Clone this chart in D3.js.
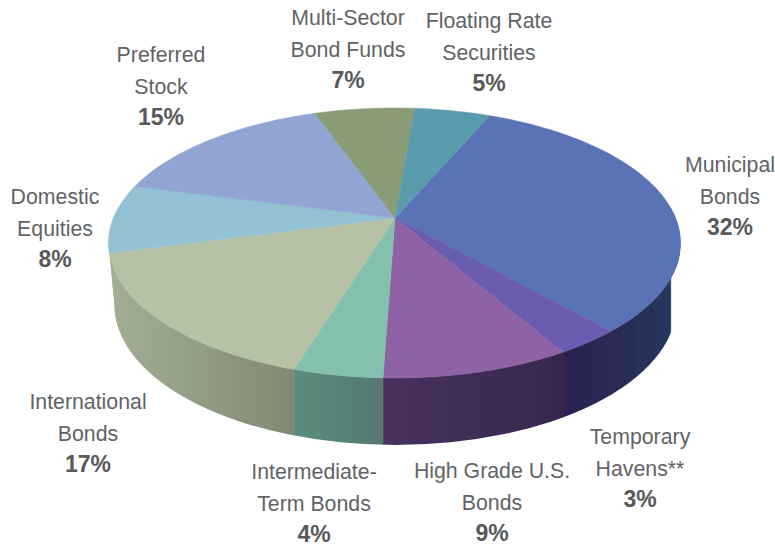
<!DOCTYPE html>
<html><head><meta charset="utf-8">
<style>html,body{margin:0;padding:0;background:#fff}svg{display:block}</style>
<script src="https://cdn.jsdelivr.net/npm/d3@7"></script></head>
<body><svg id="c" width="775" height="546"></svg>
<script>
// ---- data ----
const categories = [
  ["Municipal","Bonds"],["Temporary","Havens**"],["High Grade U.S.","Bonds"],
  ["Intermediate-","Term Bonds"],["International","Bonds"],["Domestic","Equities"],
  ["Preferred","Stock"],["Multi-Sector","Bond Funds"],["Floating Rate","Securities"]
];
const percents = [32,3,9,4,17,8,15,7,5];
// the drawn sweep of each slice on the tilted rim (degrees)
const drawnSweep = [111.4,13.1,38.4,18.3,65.1,29,49.1,20.3,15.3];
const topColors  = ["#5a72b6","#6a5bb0","#8e62a5","#83c1ae","#b5c2a5","#93c1d3","#91a4d4","#8a9c76","#5a9aad"];
const wallLeft   = ["#2a2a55","#2c2250","#47315f","#5c8c7e","#a2af96","#a2af96","#a2af96","#a2af96","#2a2a55"];
const wallRight  = ["#24395f","#2c2a55","#38284e","#557870","#7f8a70","#a2af96","#a2af96","#a2af96","#24395f"];
// ---- layout ----
const W=775,H=546;
const top_={cx:394.5,cy:243,rx:286,ry:135}, apex=[395,218];
const bot={cx:395.5,cy:305,rx:281,ry:140};
const labelAt=[[730,172],[640,444],[492,478],[314,479],[88,409],[55,204],[161,62],[348,25],[489,28]];
const rad=d3.scaleLinear().domain([0,360]).range([0,2*Math.PI]);
const rim=t=>[top_.cx+top_.rx*Math.sin(t), top_.cy-top_.ry*Math.cos(t)];
const arcs=d3.pie().sort(null).value(d=>d).startAngle(rad(19.4)).endAngle(rad(379.4))(drawnSweep);
const line=d3.line();
const rimPts=(a,b)=>{const n=Math.max(2,Math.ceil((b-a)/0.02));return d3.range(n+1).map(i=>rim(a+(b-a)*i/n));};

const svg=d3.select("#c");
const defs=svg.append("defs");
defs.append("filter").attr("id","soft").attr("x","-5%").attr("y","-5%").attr("width","110%").attr("height","110%")
  .append("feGaussianBlur").attr("stdDeviation",0.7);
const clip=defs.append("clipPath").attr("id","body");
clip.append("ellipse").attr("cx",bot.cx).attr("cy",bot.cy).attr("rx",bot.rx).attr("ry",bot.ry);
clip.append("path").attr("d",line([[top_.cx-top_.rx,top_.cy],[top_.cx+top_.rx,top_.cy],[bot.cx+bot.rx,bot.cy],[bot.cx-bot.rx,bot.cy]])+"Z");
clip.append("ellipse").attr("cx",top_.cx).attr("cy",top_.cy).attr("rx",top_.rx).attr("ry",top_.ry);

const pie=svg.append("g").attr("filter","url(#soft)");
const walls=pie.append("g").attr("clip-path","url(#body)");
const lo=rad(75),hi=rad(285);
arcs.forEach((d,i)=>{
  // the rim angle runs on past a full turn; only the front of the drum is visible
  const a=Math.max(d.startAngle,lo), b=Math.min(d.endAngle,hi);
  if(b<=a) return;
  const pts=rimPts(a,b);
  const xs=d3.extent(pts,p=>p[0]);
  const id="w"+i;
  const g=defs.append("linearGradient").attr("id",id).attr("gradientUnits","userSpaceOnUse")
    .attr("x1",xs[0]).attr("x2",xs[1]).attr("y1",0).attr("y2",0);
  g.append("stop").attr("offset",0).attr("stop-color",wallLeft[i]);
  g.append("stop").attr("offset",1).attr("stop-color",wallRight[i]);
  const down=pts.slice().reverse().map(p=>[p[0],470]);
  walls.append("path").attr("d",line(pts.concat(down))+"Z").attr("fill","url(#"+id+")")
    .attr("stroke","url(#"+id+")").attr("stroke-width",0.6);
});
pie.append("g").selectAll("path").data(arcs).join("path")
  .attr("d",d=>line([apex].concat(rimPts(d.startAngle,d.endAngle)))+"Z")
  .attr("fill",(d,i)=>topColors[i]).attr("stroke",(d,i)=>topColors[i]).attr("stroke-width",0.5);

const text=svg.append("g").attr("text-anchor","middle").attr("fill","#626365")
  .attr("font-family","'Liberation Sans',Arial,sans-serif");
categories.forEach((lines,i)=>{
  const [x,y]=labelAt[i];
  lines.forEach((s,k)=>text.append("text").attr("x",x).attr("y",y+k*31.5).attr("font-size",21.3).text(s));
  text.append("text").attr("x",x).attr("y",y+63).attr("font-size",23).attr("font-weight","bold").attr("fill","#58595b").text(percents[i]+"%");
});
</script></body></html>
